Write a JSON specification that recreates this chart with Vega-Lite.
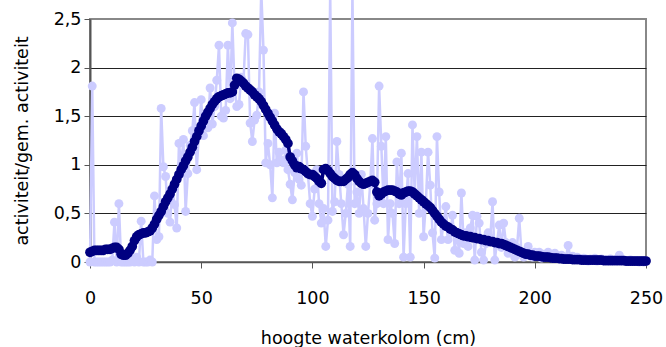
{
"$schema": "https://vega.github.io/schema/vega-lite/v6.json",
"width": 556, "height": 243,
"autosize": {"type": "none"},
"padding": {"left": 90, "top": 19, "right": 20, "bottom": 85},
"background": "white",
"config": {"view": {"stroke": "#888888", "strokeWidth": 2}, "font": "DejaVu Sans"},
"data": {"values": [
{"h":0,"l":0,"d":0.10},{"h":1,"l":1.81,"d":0.11},{"h":2,"l":0,"d":0.12},{"h":3,"l":0,"d":0.12},{"h":4,"l":0,"d":0.12},{"h":5,"l":0,"d":0.12},{"h":6,"l":0,"d":0.12},{"h":7,"l":0,"d":0.13},{"h":8,"l":0,"d":0.13},{"h":9,"l":0,"d":0.13},
{"h":10,"l":0.02,"d":0.14},{"h":11,"l":0.41,"d":0.15},{"h":12,"l":0,"d":0.15},{"h":13,"l":0.6,"d":0.13},{"h":14,"l":0,"d":0.08},{"h":15,"l":0,"d":0.07},{"h":16,"l":0,"d":0.07},{"h":17,"l":0,"d":0.09},{"h":18,"l":0,"d":0.12},{"h":19,"l":0.03,"d":0.16},
{"h":20,"l":0,"d":0.22},{"h":21,"l":0.05,"d":0.26},{"h":22,"l":0,"d":0.28},{"h":23,"l":0.42,"d":0.29},{"h":24,"l":0,"d":0.30},{"h":25,"l":0,"d":0.30},{"h":26,"l":0,"d":0.31},{"h":27,"l":0.02,"d":0.32},{"h":28,"l":0,"d":0.35},{"h":29,"l":0.68,"d":0.39},
{"h":30,"l":0.23,"d":0.44},{"h":31,"l":0.26,"d":0.48},{"h":32,"l":1.58,"d":0.52},{"h":33,"l":0.98,"d":0.57},{"h":34,"l":0.88,"d":0.62},{"h":35,"l":0.5,"d":0.66},{"h":36,"l":0.41,"d":0.70},{"h":37,"l":0.75,"d":0.75},{"h":38,"l":0.59,"d":0.80},{"h":39,"l":0.35,"d":0.85},
{"h":40,"l":1.22,"d":0.90},{"h":41,"l":1.0,"d":0.95},{"h":42,"l":1.26,"d":0.99},{"h":43,"l":0.52,"d":1.04},{"h":44,"l":0.91,"d":1.08},{"h":45,"l":1.2,"d":1.13},{"h":46,"l":1.35,"d":1.18},{"h":47,"l":1.64,"d":1.24},{"h":48,"l":0.95,"d":1.29},{"h":49,"l":1.33,"d":1.35},
{"h":50,"l":1.67,"d":1.40},{"h":51,"l":1.3,"d":1.45},{"h":52,"l":1.45,"d":1.50},{"h":53,"l":1.38,"d":1.54},{"h":54,"l":1.79,"d":1.58},{"h":55,"l":1.42,"d":1.62},{"h":56,"l":1.6,"d":1.65},{"h":57,"l":1.87,"d":1.68},{"h":58,"l":2.23,"d":1.70},{"h":59,"l":1.5,"d":1.71},
{"h":60,"l":1.48,"d":1.72},{"h":61,"l":1.56,"d":1.73},{"h":62,"l":2.23,"d":1.74},{"h":63,"l":1.68,"d":1.74},{"h":64,"l":2.46,"d":1.75},{"h":65,"l":1.8,"d":1.82},{"h":66,"l":1.6,"d":1.89},{"h":67,"l":1.62,"d":1.88},{"h":68,"l":1.9,"d":1.86},{"h":69,"l":1.85,"d":1.84},
{"h":70,"l":2.35,"d":1.81},{"h":71,"l":2.34,"d":1.79},{"h":72,"l":1.43,"d":1.77},{"h":73,"l":1.24,"d":1.75},{"h":74,"l":1.46,"d":1.72},{"h":75,"l":1.51,"d":1.70},{"h":76,"l":1.75,"d":1.68},{"h":77,"l":2.8,"d":1.65},{"h":78,"l":2.18,"d":1.61},{"h":79,"l":1.02,"d":1.57},
{"h":80,"l":1.22,"d":1.53},{"h":81,"l":1.0,"d":1.49},{"h":82,"l":0.66,"d":1.45},{"h":83,"l":1.53,"d":1.41},{"h":84,"l":1.02,"d":1.37},{"h":85,"l":1.13,"d":1.34},{"h":86,"l":1.05,"d":1.32},{"h":87,"l":1.02,"d":1.29},{"h":88,"l":1.15,"d":1.26},{"h":89,"l":0.95,"d":1.22},
{"h":90,"l":0.8,"d":1.08},{"h":91,"l":0.64,"d":1.04},{"h":92,"l":0.92,"d":1.00},{"h":93,"l":1.12,"d":0.97},{"h":94,"l":0.85,"d":0.98},{"h":95,"l":0.79,"d":0.96},{"h":96,"l":1.75,"d":0.95},{"h":97,"l":1.19,"d":0.93},{"h":98,"l":0.9,"d":0.91},{"h":99,"l":0.6,"d":0.90},
{"h":100,"l":0.47,"d":0.90},{"h":101,"l":0.75,"d":0.88},{"h":102,"l":0.95,"d":0.86},{"h":103,"l":0.6,"d":0.83},{"h":104,"l":0.4,"d":0.81},{"h":105,"l":0.55,"d":0.95},{"h":106,"l":0.16,"d":0.96},{"h":107,"l":0.43,"d":0.94},{"h":108,"l":2.8,"d":0.91},{"h":109,"l":0.52,"d":0.88},
{"h":110,"l":0.62,"d":0.86},{"h":111,"l":1.24,"d":0.84},{"h":112,"l":0.9,"d":0.83},{"h":113,"l":0.6,"d":0.83},{"h":114,"l":0.28,"d":0.83},{"h":115,"l":0.5,"d":0.85},{"h":116,"l":0.8,"d":0.87},{"h":117,"l":0.16,"d":0.90},{"h":118,"l":2.8,"d":0.92},{"h":119,"l":0.6,"d":0.90},
{"h":120,"l":0.72,"d":0.86},{"h":121,"l":0.5,"d":0.83},{"h":122,"l":0.9,"d":0.81},{"h":123,"l":0.55,"d":0.80},{"h":124,"l":0.16,"d":0.81},{"h":125,"l":0.5,"d":0.82},{"h":126,"l":0.8,"d":0.83},{"h":127,"l":1.27,"d":0.84},{"h":128,"l":0.43,"d":0.82},{"h":129,"l":0.6,"d":0.72},
{"h":130,"l":1.81,"d":0.68},{"h":131,"l":1.19,"d":0.70},{"h":132,"l":0.6,"d":0.72},{"h":133,"l":1.29,"d":0.73},{"h":134,"l":0.23,"d":0.74},{"h":135,"l":0.6,"d":0.74},{"h":136,"l":0.5,"d":0.74},{"h":137,"l":0.19,"d":0.73},{"h":138,"l":1.03,"d":0.72},{"h":139,"l":0.6,"d":0.70},
{"h":140,"l":1.12,"d":0.69},{"h":141,"l":0.05,"d":0.71},{"h":142,"l":0.6,"d":0.72},{"h":143,"l":0.91,"d":0.73},{"h":144,"l":0.05,"d":0.73},{"h":145,"l":1.41,"d":0.72},{"h":146,"l":0.7,"d":0.70},{"h":147,"l":1.29,"d":0.68},{"h":148,"l":0.5,"d":0.66},{"h":149,"l":1.13,"d":0.64},
{"h":150,"l":0.26,"d":0.62},{"h":151,"l":0.6,"d":0.60},{"h":152,"l":1.13,"d":0.58},{"h":153,"l":0.79,"d":0.56},{"h":154,"l":0.3,"d":0.53},{"h":155,"l":0.04,"d":0.50},{"h":156,"l":1.29,"d":0.47},{"h":157,"l":0.72,"d":0.44},{"h":158,"l":0.23,"d":0.41},{"h":159,"l":0.4,"d":0.39},
{"h":160,"l":0.57,"d":0.37},{"h":161,"l":0.23,"d":0.36},{"h":162,"l":0.3,"d":0.34},{"h":163,"l":0.48,"d":0.33},{"h":164,"l":0.12,"d":0.31},{"h":165,"l":0.3,"d":0.30},{"h":166,"l":0.09,"d":0.29},{"h":167,"l":0.71,"d":0.28},{"h":168,"l":0.19,"d":0.27},{"h":169,"l":0.3,"d":0.27},
{"h":170,"l":0.16,"d":0.26},{"h":171,"l":0.35,"d":0.26},{"h":172,"l":0.48,"d":0.25},{"h":173,"l":0.02,"d":0.25},{"h":174,"l":0.47,"d":0.24},{"h":175,"l":0.4,"d":0.24},{"h":176,"l":0.1,"d":0.23},{"h":177,"l":0.02,"d":0.23},{"h":178,"l":0.19,"d":0.22},{"h":179,"l":0.3,"d":0.22},
{"h":180,"l":0.25,"d":0.21},{"h":181,"l":0.62,"d":0.21},{"h":182,"l":0.02,"d":0.20},{"h":183,"l":0.2,"d":0.20},{"h":184,"l":0.38,"d":0.19},{"h":185,"l":0.15,"d":0.19},{"h":186,"l":0.4,"d":0.18},{"h":187,"l":0.2,"d":0.17},{"h":188,"l":0.09,"d":0.16},{"h":189,"l":0.15,"d":0.15},
{"h":190,"l":0.2,"d":0.14},{"h":191,"l":0.05,"d":0.13},{"h":192,"l":0.15,"d":0.12},{"h":193,"l":0.45,"d":0.11},{"h":194,"l":0.1,"d":0.10},{"h":195,"l":0.05,"d":0.09},{"h":196,"l":0.1,"d":0.08},{"h":197,"l":0.16,"d":0.08},{"h":198,"l":0.08,"d":0.07},{"h":199,"l":0.05,"d":0.07},
{"h":200,"l":0.1,"d":0.06},{"h":201,"l":0.06,"d":0.06},{"h":202,"l":0.1,"d":0.06},{"h":203,"l":0.04,"d":0.055},{"h":204,"l":0.08,"d":0.05},{"h":205,"l":0.05,"d":0.05},{"h":206,"l":0.1,"d":0.05},{"h":207,"l":0.06,"d":0.045},{"h":208,"l":0.04,"d":0.04},{"h":209,"l":0.09,"d":0.04},
{"h":210,"l":0.05,"d":0.04},{"h":211,"l":0.03,"d":0.035},{"h":212,"l":0.07,"d":0.035},{"h":213,"l":0.04,"d":0.03},{"h":214,"l":0.05,"d":0.03},{"h":215,"l":0.17,"d":0.03},{"h":216,"l":0.04,"d":0.03},{"h":217,"l":0.06,"d":0.025},{"h":218,"l":0.03,"d":0.025},{"h":219,"l":0.05,"d":0.025},
{"h":220,"l":0.04,"d":0.025},{"h":221,"l":0.02,"d":0.02},{"h":222,"l":0.04,"d":0.02},{"h":223,"l":0.03,"d":0.02},{"h":224,"l":0.01,"d":0.02},{"h":225,"l":0.03,"d":0.02},{"h":226,"l":0.02,"d":0.02},{"h":227,"l":0.04,"d":0.02},{"h":228,"l":0.01,"d":0.02},{"h":229,"l":0.02,"d":0.02},
{"h":230,"l":0.03,"d":0.02},{"h":231,"l":0.01,"d":0.015},{"h":232,"l":0.02,"d":0.015},{"h":233,"l":0.01,"d":0.015},{"h":234,"l":0.03,"d":0.015},{"h":235,"l":0.01,"d":0.015},{"h":236,"l":0.02,"d":0.015},{"h":237,"l":0.01,"d":0.015},{"h":238,"l":0.07,"d":0.015},{"h":239,"l":0.01,"d":0.015},
{"h":240,"l":0.02,"d":0.015},{"h":241,"l":0.01,"d":0.01},{"h":242,"l":0.01,"d":0.01},{"h":243,"l":0.02,"d":0.01},{"h":244,"l":0.01,"d":0.01},{"h":245,"l":0.01,"d":0.01},{"h":246,"l":0.01,"d":0.01},{"h":247,"l":0,"d":0.01},{"h":248,"l":0.01,"d":0.01},{"h":249,"l":0,"d":0.01},
{"h":250,"l":0.01,"d":0.01}
]},
"encoding": {
  "x": {"field": "h", "type": "quantitative", "scale": {"domain": [0, 250], "nice": false},
    "axis": {"title": "hoogte waterkolom (cm)", "values": [0, 50, 100, 150, 200, 250], "grid": false,
      "tickSize": 6, "tickColor": "#555555", "domainColor": "#555555", "domainWidth": 1.5,
      "labelFontSize": 17.5, "labelColor": "#000000", "labelPadding": 21, "labelFlush": false, "labelOverlap": false,
      "titleFontSize": 17.5, "titleFontWeight": "normal", "titleColor": "#000000", "titlePadding": 23}}
},
"layer": [
  {"mark": {"type": "line", "color": "#CCCCFF", "strokeWidth": 2.5,
      "point": {"filled": true, "size": 80, "color": "#CCCCFF", "opacity": 1}},
   "encoding": {"y": {"field": "l", "type": "quantitative", "scale": {"domain": [0, 2.5], "nice": false},
      "axis": {"title": "activiteit/gem. activiteit", "values": [0, 0.5, 1, 1.5, 2, 2.5],
        "labelExpr": "replace(format(datum.value, '~g'), '.', ',')", "grid": true,
        "gridColor": {"condition": {"test": "datum.value >= 2.5 || datum.value <= 0", "value": "transparent"}, "value": "#222222"},
        "tickSize": 6, "tickColor": "#555555", "domainColor": "#555555", "domainWidth": 2,
        "labelFontSize": 17.5, "labelColor": "#000000", "labelPadding": 3,
        "titleFontSize": 17.5, "titleFontWeight": "normal", "titleColor": "#000000", "titlePadding": 22}}}},
  {"mark": {"type": "line", "color": "#000080", "strokeWidth": 3.5,
      "point": {"filled": true, "size": 95, "color": "#000080", "opacity": 1}},
   "encoding": {"y": {"field": "d", "type": "quantitative", "title": "activiteit/gem. activiteit"}}}
]
}
